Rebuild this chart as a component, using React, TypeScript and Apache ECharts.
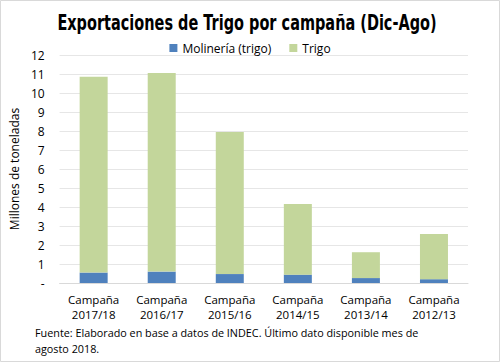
import React, { useEffect, useRef } from "react";
import * as echarts from "echarts";

const categories = ["Campaña\n2017/18", "Campaña\n2016/17", "Campaña\n2015/16", "Campaña\n2014/15", "Campaña\n2013/14", "Campaña\n2012/13"];
const molineria = [0.55, 0.6, 0.47, 0.44, 0.26, 0.2];
const trigo = [10.3, 10.45, 7.48, 3.72, 1.36, 2.38];

const FONT = "'Open Sans', 'Liberation Sans', sans-serif";

export default function App() {
  const ref = useRef<HTMLDivElement>(null);
  useEffect(() => {
    const chart = echarts.init(ref.current!, null, { renderer: "svg" });
    chart.setOption({
      animation: false,
      backgroundColor: "#ffffff",
      legend: {
        top: 37,
        left: "center",
        itemWidth: 8,
        itemHeight: 8,
        itemGap: 18,
        icon: "rect",
        textStyle: { fontFamily: FONT, fontSize: 12, color: "#000" },
        data: ["Molinería (trigo)", "Trigo"],
      },
      grid: { left: 49, right: 32, top: 55, bottom: 79, containLabel: false },
      xAxis: {
        type: "category",
        data: categories,
        axisLine: { lineStyle: { color: "#D9D9D9" } },
        axisTick: { show: false },
        axisLabel: { interval: 0, fontFamily: FONT, fontSize: 11.5, color: "#000", lineHeight: 15, margin: 9 },
      },
      yAxis: {
        type: "value",
        min: 0,
        max: 12,
        interval: 1,
        name: "Millones de toneladas",
        nameLocation: "middle",
        nameGap: 35,
        nameTextStyle: { fontFamily: FONT, fontSize: 12, color: "#000" },
        axisLine: { show: false },
        axisTick: { show: false },
        splitLine: { lineStyle: { color: "#E6E6E6" } },
        axisLabel: {
          fontFamily: FONT,
          fontSize: 12,
          color: "#000",
          margin: 15,
          formatter: (v: number) => (v === 0 ? "-" : String(v)),
        },
      },
      series: [
        {
          name: "Molinería (trigo)",
          type: "bar",
          stack: "t",
          data: molineria,
          barWidth: 28,
          itemStyle: { color: "#4F81BD" },
        },
        {
          name: "Trigo",
          type: "bar",
          stack: "t",
          data: trigo,
          barWidth: 28,
          itemStyle: { color: "#C3D69B" },
        },
      ],
      graphic: [
        {
          type: "rect",
          shape: { x: 0.5, y: 0.5, width: 499, height: 361 },
          style: { fill: "none", stroke: "#D9D9D9", lineWidth: 1 },
          silent: true,
        },
        {
          type: "text",
          x: 247,
          y: 22,
          scaleX: 0.69,
          style: {
            text: "Exportaciones de Trigo por campaña (Dic-Ago)",
            fontFamily: "'DejaVu Sans', sans-serif",
            fontWeight: "bold",
            fontSize: 21,
            fill: "#000",
            align: "center",
            verticalAlign: "middle",
          },
        },
        {
          type: "text",
          left: 35,
          top: 324,
          style: {
            text: "Fuente: Elaborado en base a datos de INDEC. Último dato disponible mes de\nagosto 2018.",
            fontFamily: FONT,
            fontSize: 10.8,
            lineHeight: 16,
            fill: "#000",
          },
        },
      ],
    });
    return () => chart.dispose();
  }, []);
  return <div ref={ref} style={{ position: "absolute", left: 0, top: 0, width: 500, height: 362 }} />;
}
